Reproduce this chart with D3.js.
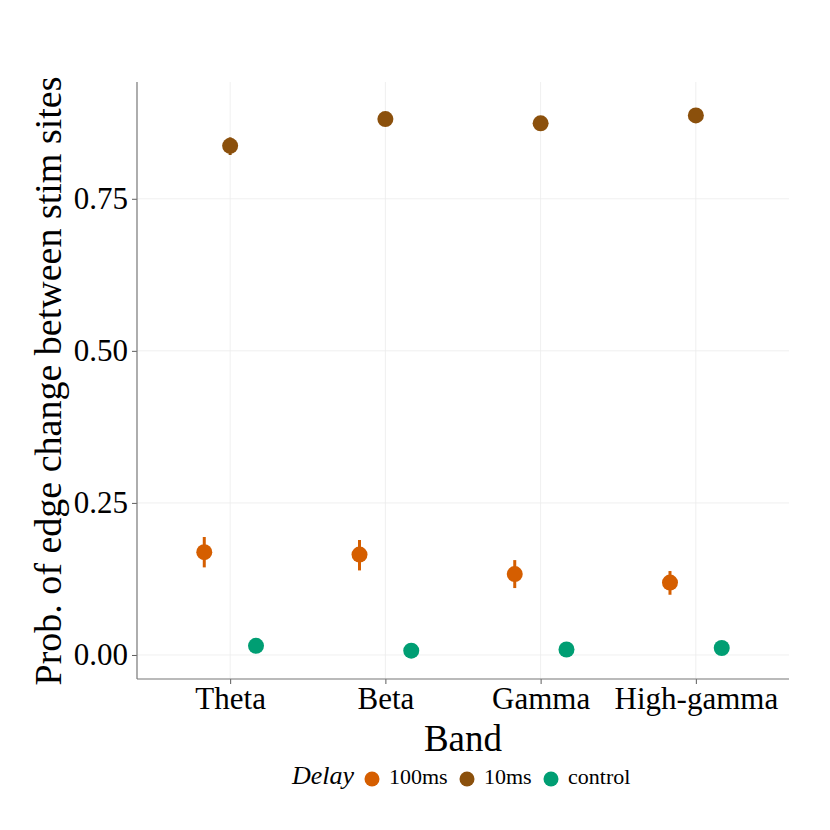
<!DOCTYPE html>
<html>
<head>
<meta charset="utf-8">
<script src="https://cdn.jsdelivr.net/npm/d3@7"></script>
<style>
  body { margin: 0; background: #fff; }
  text { font-family: "Liberation Serif", "DejaVu Serif", serif; fill: #000; }
</style>
</head>
<body>
<svg id="chart" width="830" height="830"></svg>
<script>
// data
var bands = ['Theta', 'Beta', 'Gamma', 'High-gamma']
var delays = ['100ms', '10ms', 'control']
var mean100 = [0.169, 0.165, 0.133, 0.119]
var lo100 = [0.144, 0.139, 0.110, 0.099]
var hi100 = [0.194, 0.189, 0.156, 0.138]
var mean10 = [0.837, 0.881, 0.874, 0.887]
var lo10 = [0.822, 0.874, 0.862, 0.881]
var hi10 = [0.851, 0.888, 0.886, 0.893]
var meanCtl = [0.015, 0.007, 0.009, 0.0115]
var loCtl = [0.013, 0.005, 0.007, 0.0095]
var hiCtl = [0.017, 0.009, 0.011, 0.0135]
var yTicks = [0, 0.25, 0.5, 0.75]

var colors = { '100ms': '#d55e00', '10ms': '#8b500c', 'control': '#009e73' }

var rows = []
bands.forEach(function(b, i) {
  rows.push({ band: b, delay: '100ms', m: mean100[i], lo: lo100[i], hi: hi100[i] })
  rows.push({ band: b, delay: '10ms', m: mean10[i], lo: lo10[i], hi: hi10[i] })
  rows.push({ band: b, delay: 'control', m: meanCtl[i], lo: loCtl[i], hi: hiCtl[i] })
})

//
// layout
//
var svg = d3.select('#chart')
var pLeft = 137, pRight = 789, pTop = 82, pBottom = 679

var x = d3.scalePoint().domain(bands).range([pLeft, pRight]).padding(0.6)
var step = x.step()
var dodge = d3.scalePoint().domain(delays).range([-step / 6, step / 6])
var y = d3.scaleLinear().domain([-0.0395, 0.942]).range([pBottom, pTop])

// grid
svg.append('g').selectAll('line').data(yTicks).join('line')
  .attr('x1', pLeft).attr('x2', pRight)
  .attr('y1', d => y(d)).attr('y2', d => y(d))
  .attr('stroke', '#ebebeb').attr('stroke-width', 0.8)
svg.append('g').selectAll('line').data(bands).join('line')
  .attr('x1', d => x(d)).attr('x2', d => x(d))
  .attr('y1', pTop).attr('y2', pBottom)
  .attr('stroke', '#ebebeb').attr('stroke-width', 0.8)

// axes
var yAxis = svg.append('g').attr('transform', 'translate(' + pLeft + ',0)')
  .call(d3.axisLeft(y).tickValues(yTicks).tickFormat(d3.format('.2f')).tickSize(5).tickPadding(4))
var xAxis = svg.append('g').attr('transform', 'translate(0,' + pBottom + ')')
  .call(d3.axisBottom(x).tickSize(5).tickPadding(3))
;[yAxis, xAxis].forEach(function(a) {
  a.select('.domain').remove()
  a.selectAll('line').attr('stroke', '#333').attr('stroke-width', 0.8)
  a.selectAll('text').style('font-size', '31px').style('font-family', '"Liberation Serif", serif').attr('fill', '#000')
})
svg.append('line').attr('x1', pLeft).attr('x2', pLeft).attr('y1', pTop).attr('y2', pBottom)
  .attr('stroke', '#777').attr('stroke-width', 1.2)
svg.append('line').attr('x1', pLeft).attr('x2', pRight).attr('y1', pBottom).attr('y2', pBottom)
  .attr('stroke', '#777').attr('stroke-width', 1.2)

// error bars + points
var g = svg.append('g')
g.selectAll('line.err').data(rows).join('line').attr('class', 'err')
  .attr('x1', d => x(d.band) + dodge(d.delay)).attr('x2', d => x(d.band) + dodge(d.delay))
  .attr('y1', d => y(d.lo)).attr('y2', d => y(d.hi))
  .attr('stroke', d => colors[d.delay]).attr('stroke-width', 3)
g.selectAll('circle').data(rows).join('circle')
  .attr('cx', d => x(d.band) + dodge(d.delay)).attr('cy', d => y(d.m))
  .attr('r', 8).attr('fill', d => colors[d.delay])

// titles
svg.append('text').attr('x', (pLeft + pRight) / 2).attr('y', 751)
  .attr('text-anchor', 'middle').style('font-size', '37px').text('Band')
svg.append('text').attr('transform', 'translate(61,' + 381 + ') rotate(-90)')
  .attr('text-anchor', 'middle').style('font-size', '38px')
  .text('Prob. of edge change between stim sites')

// legend
var leg = svg.append('g').attr('transform', 'translate(0,779)')
leg.append('text').attr('x', 292).attr('y', 5).style('font-size', '26px')
  .style('font-style', 'italic').text('Delay')
var legX = [372, 467, 551]
delays.forEach(function(d, i) {
  leg.append('circle').attr('cx', legX[i]).attr('cy', 0).attr('r', 7.5).attr('fill', colors[d])
  leg.append('text').attr('x', legX[i] + 17).attr('y', 5).style('font-size', '22px').text(d)
})
</script>
</body>
</html>
